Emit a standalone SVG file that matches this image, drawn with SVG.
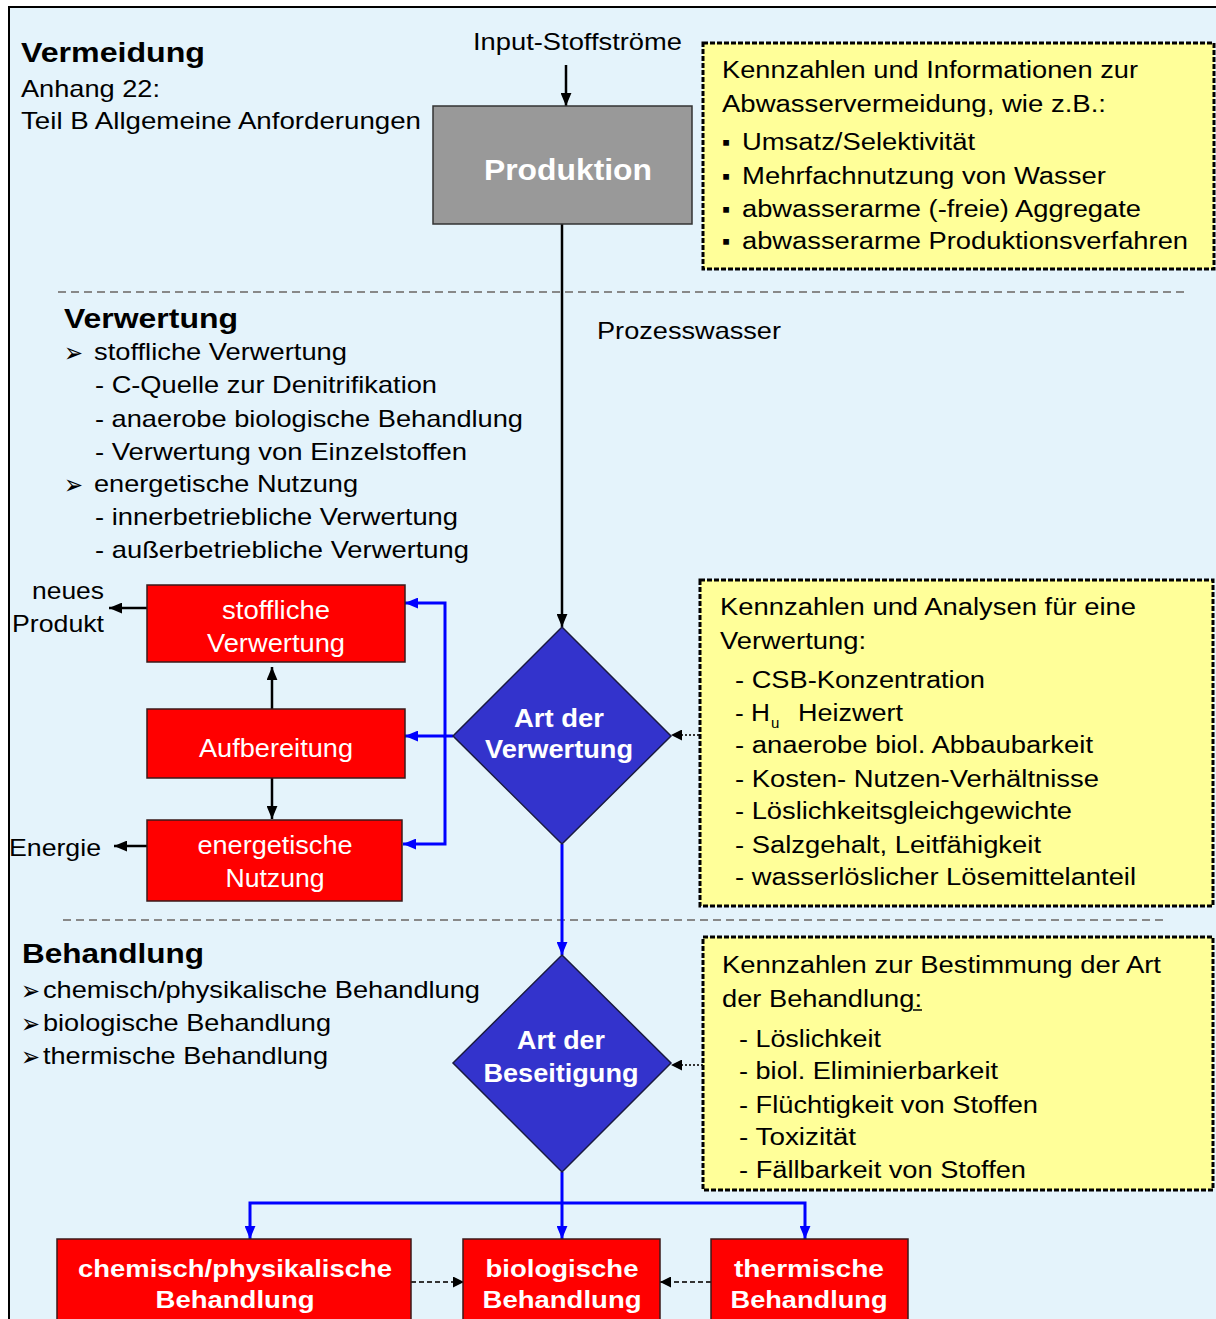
<svg xmlns="http://www.w3.org/2000/svg" width="1216" height="1319" viewBox="0 0 1216 1319">
<defs>
<style>
.t{font-family:"Liberation Sans",Arial,sans-serif;font-size:24px;fill:#000}
.y{font-size:23px}
.h{font-weight:bold;font-size:28px}
.w{fill:#fff}
.wb{fill:#fff;font-weight:bold}
.m{text-anchor:middle}
.sym{font-family:"DejaVu Sans",sans-serif;font-size:27px;fill:#000}
.red{fill:#ff0000;stroke:#3a1a1a;stroke-width:1.5}
.dia{fill:#3333cc;stroke:#1a1a40;stroke-width:1.5}
.note{fill:#ffff99;stroke:#000;stroke-width:3;stroke-dasharray:5 2}
.blk{stroke:#000;stroke-width:2.5;fill:none}
.blu{stroke:#0000ff;stroke-width:3;fill:none}
.dot{stroke:#333;stroke-width:2;stroke-dasharray:2 2;fill:none}
.dsa{stroke:#333;stroke-width:2;stroke-dasharray:5 3;fill:none}
.dsh{stroke:#888;stroke-width:2;stroke-dasharray:8 5;fill:none}
</style>
<marker id="ak" viewBox="0 0 12 10" refX="12" refY="5" markerWidth="13" markerHeight="11" markerUnits="userSpaceOnUse" orient="auto"><path d="M0,0 L12,5 L0,10 z" fill="#000"/></marker>
<marker id="ab" viewBox="0 0 12 10" refX="12" refY="5" markerWidth="13" markerHeight="11" markerUnits="userSpaceOnUse" orient="auto"><path d="M0,0 L12,5 L0,10 z" fill="#0000ff"/></marker>
<marker id="as" viewBox="0 0 10 10" refX="10" refY="5" markerWidth="11" markerHeight="11" markerUnits="userSpaceOnUse" orient="auto"><path d="M0,0 L10,5 L0,10 z" fill="#000"/></marker>
</defs>
<rect x="0" y="0" width="1216" height="1319" fill="#fff"/>
<rect x="9" y="7" width="1220" height="1330" fill="#e4f3fb" stroke="#000" stroke-width="2"/>

<g id="dividers">
<line class="dsh" x1="58" y1="292" x2="1187" y2="292"/>
<line class="dsh" x1="63" y1="920" x2="1165" y2="920"/>
</g>

<g id="section-vermeidung">
<text class="t h" x="21" y="62" textLength="184" lengthAdjust="spacingAndGlyphs">Vermeidung</text>
<text class="t" x="21" y="97" textLength="139" lengthAdjust="spacingAndGlyphs">Anhang 22:</text>
<text class="t" x="21" y="129" textLength="400" lengthAdjust="spacingAndGlyphs">Teil B Allgemeine Anforderungen</text>
<text class="t" x="473" y="50" textLength="209" lengthAdjust="spacingAndGlyphs">Input-Stoffströme</text>
<text class="t" x="597" y="339" textLength="184" lengthAdjust="spacingAndGlyphs">Prozesswasser</text>
</g>

<g id="section-verwertung">
<text class="t h" x="64" y="328" textLength="174" lengthAdjust="spacingAndGlyphs">Verwertung</text>
<text class="sym" x="64" y="362" textLength="19" lengthAdjust="spacingAndGlyphs">➢</text>
<text class="t" x="94" y="360" textLength="253" lengthAdjust="spacingAndGlyphs">stoffliche Verwertung</text>
<text class="t" x="95" y="393" textLength="342" lengthAdjust="spacingAndGlyphs">- C-Quelle zur Denitrifikation</text>
<text class="t" x="95" y="427" textLength="428" lengthAdjust="spacingAndGlyphs">- anaerobe biologische Behandlung</text>
<text class="t" x="95" y="460" textLength="372" lengthAdjust="spacingAndGlyphs">- Verwertung von Einzelstoffen</text>
<text class="sym" x="64" y="494" textLength="19" lengthAdjust="spacingAndGlyphs">➢</text>
<text class="t" x="94" y="492" textLength="264" lengthAdjust="spacingAndGlyphs">energetische Nutzung</text>
<text class="t" x="95" y="525" textLength="363" lengthAdjust="spacingAndGlyphs">- innerbetriebliche Verwertung</text>
<text class="t" x="95" y="558" textLength="374" lengthAdjust="spacingAndGlyphs">- außerbetriebliche Verwertung</text>
</g>

<g id="section-behandlung">
<text class="t h" x="22" y="963" textLength="182" lengthAdjust="spacingAndGlyphs">Behandlung</text>
<text class="sym" x="21" y="1000" textLength="19" lengthAdjust="spacingAndGlyphs">➢</text>
<text class="t" x="43" y="998" textLength="437" lengthAdjust="spacingAndGlyphs">chemisch/physikalische Behandlung</text>
<text class="sym" x="21" y="1033" textLength="19" lengthAdjust="spacingAndGlyphs">➢</text>
<text class="t" x="43" y="1031" textLength="288" lengthAdjust="spacingAndGlyphs">biologische Behandlung</text>
<text class="sym" x="21" y="1066" textLength="19" lengthAdjust="spacingAndGlyphs">➢</text>
<text class="t" x="43" y="1064" textLength="285" lengthAdjust="spacingAndGlyphs">thermische Behandlung</text>
</g>

<g id="connectors">
<line class="blk" x1="566" y1="65" x2="566" y2="106" marker-end="url(#ak)"/>
<line class="blk" x1="562" y1="224" x2="562" y2="627" marker-end="url(#ak)"/>
<line class="blk" x1="147" y1="608" x2="109" y2="608" marker-end="url(#ak)"/>
<line class="blk" x1="272" y1="709" x2="272" y2="667" marker-end="url(#ak)"/>
<line class="blk" x1="272" y1="778" x2="272" y2="819" marker-end="url(#ak)"/>
<line class="blk" x1="147" y1="846" x2="114" y2="846" marker-end="url(#ak)"/>
<polyline class="blu" points="453,736 445,736 445,603 405,603" marker-end="url(#ab)"/>
<line class="blu" x1="445" y1="736" x2="405" y2="736" marker-end="url(#ab)"/>
<polyline class="blu" points="445,736 445,844 403,844" marker-end="url(#ab)"/>
<line class="blu" x1="562" y1="844" x2="562" y2="955" marker-end="url(#ab)"/>
<line class="blu" x1="562" y1="1172" x2="562" y2="1239" marker-end="url(#ab)"/>
<polyline class="blu" points="562,1203 250,1203 250,1239" marker-end="url(#ab)"/>
<polyline class="blu" points="562,1203 805,1203 805,1239" marker-end="url(#ab)"/>
<line class="dot" x1="699" y1="735" x2="671" y2="735" marker-end="url(#as)"/>
<line class="dot" x1="703" y1="1065" x2="671" y2="1065" marker-end="url(#as)"/>
<line class="dsa" x1="411" y1="1282" x2="464" y2="1282" marker-end="url(#as)"/>
<line class="dsa" x1="711" y1="1282" x2="660" y2="1282" marker-end="url(#as)"/>
</g>

<g id="produktion">
<rect x="433" y="106" width="259" height="118" fill="#999999" stroke="#333" stroke-width="1.5"/>
<text class="t wb m" x="568" y="180" style="font-size:29px" textLength="168" lengthAdjust="spacingAndGlyphs">Produktion</text>
</g>

<g id="note-vermeidung">
<rect class="note" x="703" y="43" width="511" height="226"/>
<text class="t y" x="722" y="78" textLength="416" lengthAdjust="spacingAndGlyphs">Kennzahlen und Informationen zur</text>
<text class="t y" x="722" y="112" textLength="384" lengthAdjust="spacingAndGlyphs">Abwasservermeidung, wie z.B.:</text>
<text class="t y" x="722" y="150">▪</text>
<text class="t y" x="742" y="150" textLength="233" lengthAdjust="spacingAndGlyphs">Umsatz/Selektivität</text>
<text class="t y" x="722" y="184">▪</text>
<text class="t y" x="742" y="184" textLength="364" lengthAdjust="spacingAndGlyphs">Mehrfachnutzung von Wasser</text>
<text class="t y" x="722" y="217">▪</text>
<text class="t y" x="742" y="217" textLength="399" lengthAdjust="spacingAndGlyphs">abwasserarme (-freie) Aggregate</text>
<text class="t y" x="722" y="249">▪</text>
<text class="t y" x="742" y="249" textLength="446" lengthAdjust="spacingAndGlyphs">abwasserarme Produktionsverfahren</text>
</g>

<g id="stoffliche-verwertung">
<rect class="red" x="147" y="585" width="258" height="77"/>
<text class="t w m" x="276" y="619" style="font-size:25px" textLength="108" lengthAdjust="spacingAndGlyphs">stoffliche</text>
<text class="t w m" x="276" y="652" style="font-size:25px" textLength="138" lengthAdjust="spacingAndGlyphs">Verwertung</text>
</g>
<g id="neues-produkt">
<text class="t" x="104" y="599" text-anchor="end" textLength="72" lengthAdjust="spacingAndGlyphs">neues</text>
<text class="t" x="104" y="632" text-anchor="end" textLength="92" lengthAdjust="spacingAndGlyphs">Produkt</text>
</g>
<g id="aufbereitung">
<rect class="red" x="147" y="709" width="258" height="69"/>
<text class="t w m" x="276" y="757" style="font-size:25px" textLength="154" lengthAdjust="spacingAndGlyphs">Aufbereitung</text>
</g>
<g id="energetische-nutzung">
<rect class="red" x="147" y="820" width="255" height="81"/>
<text class="t w m" x="275" y="854" style="font-size:25px" textLength="155" lengthAdjust="spacingAndGlyphs">energetische</text>
<text class="t w m" x="275" y="887" style="font-size:25px" textLength="99" lengthAdjust="spacingAndGlyphs">Nutzung</text>
</g>
<g id="energie">
<text class="t" x="9" y="856" textLength="92" lengthAdjust="spacingAndGlyphs">Energie</text>
</g>

<g id="art-der-verwertung">
<polygon class="dia" points="562,627 671,736 562,844 453,736"/>
<text class="t wb m" x="559" y="727" style="font-size:25px" textLength="90" lengthAdjust="spacingAndGlyphs">Art der</text>
<text class="t wb m" x="559" y="758" style="font-size:25px" textLength="148" lengthAdjust="spacingAndGlyphs">Verwertung</text>
</g>

<g id="note-verwertung">
<rect class="note" x="700" y="580" width="513" height="326"/>
<text class="t y" x="720" y="615" textLength="416" lengthAdjust="spacingAndGlyphs">Kennzahlen und Analysen für eine</text>
<text class="t y" x="720" y="649" textLength="146" lengthAdjust="spacingAndGlyphs">Verwertung:</text>
<text class="t y" x="735" y="688" textLength="250" lengthAdjust="spacingAndGlyphs">- CSB-Konzentration</text>
<text class="t y" x="735" y="721" textLength="35" lengthAdjust="spacingAndGlyphs">- H</text>
<text class="t" x="771" y="728" style="font-size:15px">u</text>
<text class="t y" x="798" y="721" textLength="105" lengthAdjust="spacingAndGlyphs">Heizwert</text>
<text class="t y" x="735" y="753" textLength="358" lengthAdjust="spacingAndGlyphs">- anaerobe biol. Abbaubarkeit</text>
<text class="t y" x="735" y="787" textLength="364" lengthAdjust="spacingAndGlyphs">- Kosten- Nutzen-Verhältnisse</text>
<text class="t y" x="735" y="819" textLength="337" lengthAdjust="spacingAndGlyphs">- Löslichkeitsgleichgewichte</text>
<text class="t y" x="735" y="853" textLength="306" lengthAdjust="spacingAndGlyphs">- Salzgehalt, Leitfähigkeit</text>
<text class="t y" x="735" y="885" textLength="401" lengthAdjust="spacingAndGlyphs">- wasserlöslicher Lösemittelanteil</text>
</g>

<g id="art-der-beseitigung">
<polygon class="dia" points="562,955 671,1063 562,1172 453,1063"/>
<text class="t wb m" x="561" y="1049" style="font-size:25px" textLength="88" lengthAdjust="spacingAndGlyphs">Art der</text>
<text class="t wb m" x="561" y="1082" style="font-size:25px" textLength="155" lengthAdjust="spacingAndGlyphs">Beseitigung</text>
</g>

<g id="note-behandlung">
<rect class="note" x="703" y="937" width="510" height="253"/>
<text class="t y" x="722" y="973" textLength="439" lengthAdjust="spacingAndGlyphs">Kennzahlen zur Bestimmung der Art</text>
<text class="t y" x="722" y="1007" textLength="200" lengthAdjust="spacingAndGlyphs">der Behandlung:</text>
<line x1="913" y1="1010" x2="922" y2="1010" stroke="#000" stroke-width="1.5"/>
<text class="t y" x="739" y="1047" textLength="142" lengthAdjust="spacingAndGlyphs">- Löslichkeit</text>
<text class="t y" x="739" y="1079" textLength="259" lengthAdjust="spacingAndGlyphs">- biol. Eliminierbarkeit</text>
<text class="t y" x="739" y="1113" textLength="299" lengthAdjust="spacingAndGlyphs">- Flüchtigkeit von Stoffen</text>
<text class="t y" x="739" y="1145" textLength="117" lengthAdjust="spacingAndGlyphs">- Toxizität</text>
<text class="t y" x="739" y="1178" textLength="287" lengthAdjust="spacingAndGlyphs">- Fällbarkeit von Stoffen</text>
</g>

<g id="chemisch-physikalische-behandlung">
<rect class="red" x="57" y="1239" width="354" height="100"/>
<text class="t wb m" x="235" y="1277" textLength="314" lengthAdjust="spacingAndGlyphs">chemisch/physikalische</text>
<text class="t wb m" x="235" y="1308" textLength="159" lengthAdjust="spacingAndGlyphs">Behandlung</text>
</g>
<g id="biologische-behandlung">
<rect class="red" x="463" y="1239" width="197" height="100"/>
<text class="t wb m" x="562" y="1277" textLength="153" lengthAdjust="spacingAndGlyphs">biologische</text>
<text class="t wb m" x="562" y="1308" textLength="159" lengthAdjust="spacingAndGlyphs">Behandlung</text>
</g>
<g id="thermische-behandlung">
<rect class="red" x="711" y="1239" width="197" height="100"/>
<text class="t wb m" x="809" y="1277" textLength="150" lengthAdjust="spacingAndGlyphs">thermische</text>
<text class="t wb m" x="809" y="1308" textLength="157" lengthAdjust="spacingAndGlyphs">Behandlung</text>
</g>
</svg>
